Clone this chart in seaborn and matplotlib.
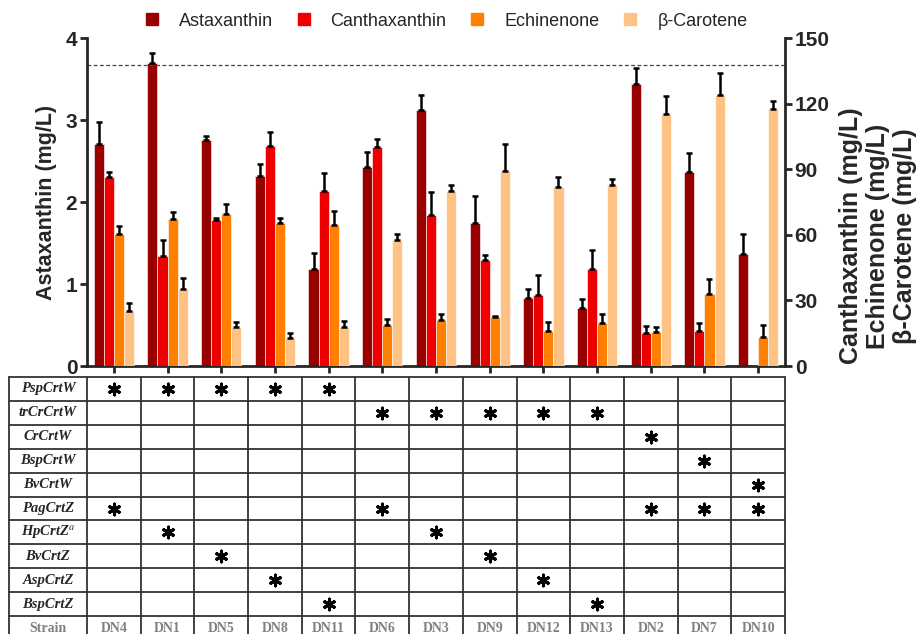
import numpy as np
import pandas as pd
import matplotlib
matplotlib.use("Agg")
import matplotlib.pyplot as plt
from matplotlib.lines import Line2D
import seaborn as sns

# ---------------- data
strains = ["DN4", "DN1", "DN5", "DN8", "DN11", "DN6", "DN3", "DN9", "DN12", "DN13", "DN2", "DN7", "DN10"]
pigments = ["Astaxanthin", "Canthaxanthin", "Echinenone", "β-Carotene"]

asta = [2.71, 3.70, 2.76, 2.32, 1.18, 2.43, 3.12, 1.74, 0.83, 0.71, 3.44, 2.37, 1.37]
asta_err = [0.27, 0.12, 0.04, 0.14, 0.20, 0.18, 0.18, 0.33, 0.11, 0.11, 0.19, 0.23, 0.24]
cantha = [86.4, 50.3, 66.8, 100.6, 80.0, 100.1, 69.0, 48.5, 32.5, 44.4, 15.0, 16.0, 0.0]
cantha_err = [2.3, 7.3, 0.9, 6.4, 8.2, 3.7, 10.6, 2.3, 9.1, 8.6, 3.3, 3.7, 0.0]
echin = [60.4, 67.2, 69.5, 65.4, 64.5, 18.7, 21.0, 22.4, 16.0, 19.7, 15.5, 32.9, 13.3]
echin_err = [3.6, 3.2, 4.5, 2.3, 6.4, 2.8, 2.8, 0.3, 4.1, 4.1, 2.3, 6.9, 5.4]
bcar = [25.0, 35.2, 17.8, 12.8, 17.8, 57.6, 80.0, 89.2, 81.8, 82.8, 115.2, 123.9, 117.5]
bcar_err = [4.0, 5.0, 2.2, 2.2, 2.8, 2.8, 2.8, 12.3, 4.6, 2.7, 8.3, 10.1, 3.5]
ref_line = 3.67

genes = ["PspCrtW", "trCrCrtW", "CrCrtW", "BspCrtW", "BvCrtW",
         "PagCrtZ", "HpCrtZ$^{a}$", "BvCrtZ", "AspCrtZ", "BspCrtZ"]
# strains carrying each gene (marked with a star)
gene_strains = [
    ["DN4", "DN1", "DN5", "DN8", "DN11"],
    ["DN6", "DN3", "DN9", "DN12", "DN13"],
    ["DN2"],
    ["DN7"],
    ["DN10"],
    ["DN4", "DN6", "DN2", "DN7", "DN10"],
    ["DN1", "DN3"],
    ["DN5", "DN9"],
    ["DN8", "DN12"],
    ["DN11", "DN13"],
]

colors = {"Astaxanthin": "#990000", "Canthaxanthin": "#EE0000",
          "Echinenone": "#FF7F00", "β-Carotene": "#FFC285"}

sns.set_style("ticks")
plt.rcParams["font.family"] = ["Liberation Sans", "DejaVu Sans"]
plt.rcParams["mathtext.fontset"] = "stix"

df = pd.DataFrame({
    "strain": strains * 4,
    "pigment": np.repeat(pigments, len(strains)),
    "value": asta + cantha + echin + bcar,
})

fig = plt.figure(figsize=(9.17, 6.34), dpi=100)
W, H = 917, 634
ax = fig.add_axes([87 / W, 1 - 366 / H, 698 / W, 328 / H])
ax2 = ax.twinx()

bar_kw = dict(x="strain", y="value", hue="pigment", order=strains, hue_order=pigments,
              palette=colors, errorbar=None, width=0.75, dodge=True, legend=False,
              edgecolor="white", linewidth=0.4, saturation=1)
sns.barplot(data=df[df.pigment == "Astaxanthin"], ax=ax, **bar_kw)
sns.barplot(data=df[df.pigment != "Astaxanthin"], ax=ax2, **bar_kw)


def add_errors(a, errs):
    bars = sorted(a.patches, key=lambda p: p.get_x())
    xs = np.array([p.get_x() + p.get_width() / 2 for p in bars])
    hs = np.array([p.get_height() for p in bars])
    es = np.array(errs)
    keep = es > 0
    a.errorbar(xs[keep], hs[keep], yerr=[np.zeros(keep.sum()), es[keep]], fmt="none",
               ecolor="black", elinewidth=1.8, capsize=2, capthick=1.8, zorder=5)


add_errors(ax, asta_err)
other_err = [v for trip in zip(cantha_err, echin_err, bcar_err) for v in trip]
add_errors(ax2, other_err)

ax.axhline(ref_line, color="#444444", ls=(0, (3, 2)), lw=0.9, zorder=1)

ax.set_xlim(-0.5, 12.5)
ax.set_ylim(0, 4)
ax2.set_ylim(0, 150)
ax.set_yticks([0, 1, 2, 3, 4])
ax2.set_yticks([0, 30, 60, 90, 120, 150])
ax.set_xlabel("")
ax2.set_xlabel("")
ax2.set_ylabel("")
ax.tick_params(axis="x", labelbottom=False, length=5, width=2, direction="out")
for a in (ax, ax2):
    a.tick_params(axis="y", length=5, width=2, labelsize=15, pad=2)
    for lab in a.get_yticklabels():
        lab.set_fontweight("bold")
    for s in a.spines.values():
        s.set_linewidth(2)
    a.spines["top"].set_visible(False)
ax.spines["right"].set_visible(False)
ax2.spines["left"].set_visible(False)
ax2.spines["bottom"].set_visible(False)

ax.set_ylabel("Astaxanthin (mg/L)", fontsize=15.5, fontweight="bold", labelpad=6)
fig.text(878 / W, 1 - 236 / H, "Canthaxanthin (mg/L)\nEchinenone (mg/L)\nβ-Carotene (mg/L)",
         rotation=90, ha="center", va="center", multialignment="center",
         fontsize=18, fontweight="bold", linespacing=1.17)

handles = [Line2D([], [], marker="s", ls="none", markersize=8, color=colors[p]) for p in pigments]
fig.legend(handles, pigments, ncol=4, loc="center", bbox_to_anchor=(445 / W, 1 - 21 / H),
           frameon=False, fontsize=13, handletextpad=1.0, columnspacing=1.2, handlelength=1.0)

# ---------------- table of genes per strain
tab = fig.add_axes([9 / W, 1 - 640 / H, 776 / W, 263 / H])
lab_w = 78 / 53.7
tab.set_xlim(-0.5 - lab_w, 12.5)
tab.set_ylim(11, 0)
tab.axis("off")
line_c = "#333333"
for r in range(12):
    tab.plot([-0.5 - lab_w, 12.5], [r, r], color=line_c, lw=1.3, clip_on=False)
for c in [-0.5 - lab_w] + list(np.arange(-0.5, 13.0, 1.0)):
    tab.plot([c, c], [0, 11], color=line_c, lw=1.3, clip_on=False)

serif = ["Liberation Serif", "DejaVu Serif"]
for r, g in enumerate(genes):
    tab.text(-0.5 - lab_w / 2, r + 0.5, g, ha="center", va="center", fontsize=10.5,
             fontweight="bold", fontstyle="italic", family=serif)
tab.text(-0.5 - lab_w / 2, 10.5, "Strain", ha="center", va="center", fontsize=10,
         fontweight="bold", color="#808080", family=serif)
for i, s in enumerate(strains):
    tab.text(i, 10.5, s, ha="center", va="center", fontsize=10,
             fontweight="bold", color="#808080", family=serif)

star_x, star_y = [], []
for r, lst in enumerate(gene_strains):
    for s in lst:
        star_x.append(strains.index(s))
        star_y.append(r + 0.5)
sns.scatterplot(x=star_x, y=star_y, ax=tab, marker=(6, 2, 0), s=60, color="black",
                edgecolor="black", linewidth=2.2, legend=False)
tab.set_xlim(-0.5 - lab_w, 12.5)
tab.set_ylim(11, 0)

fig.savefig("out.png", dpi=100)
